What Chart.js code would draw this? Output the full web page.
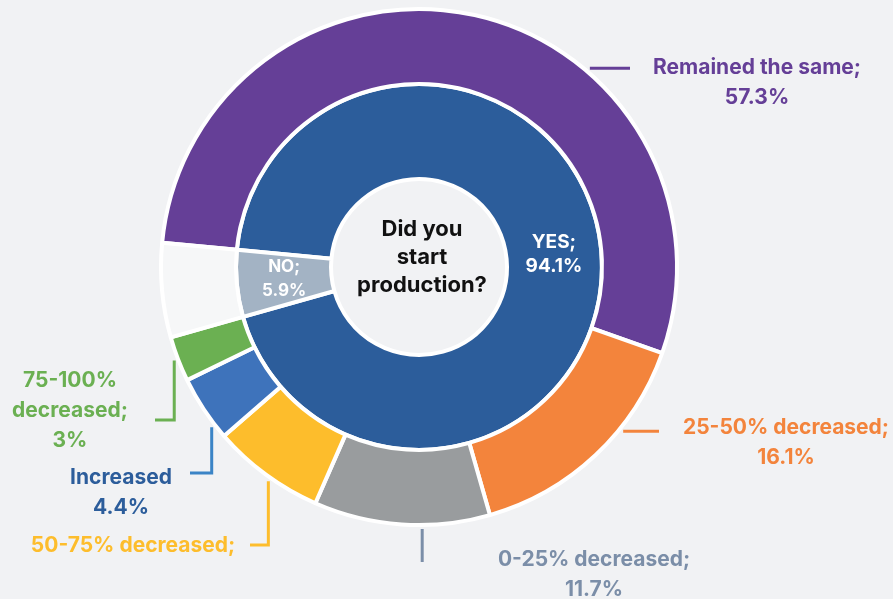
<!DOCTYPE html>
<html>
<head>
<meta charset="utf-8">
<script src="https://cdn.jsdelivr.net/npm/chart.js@4.4.0/dist/chart.umd.min.js"></script>
<style>
  html, body { margin: 0; padding: 0; background: #f1f2f4; }
  #wrap { width: 893px; height: 599px; }
</style>
</head>
<body>
<div id="wrap"><canvas id="prodChart" width="893" height="599"></canvas></div>
<script>
// inner ring: did you start production?
const startLabels = ['YES', 'NO'];
const startValues = [94.1, 5.9];

// outer ring: how production changed (% of those who said YES)
const changeLabels = ['Remained the same', '25-50% decreased', '0-25% decreased', '50-75% decreased', 'Increased', '75-100% decreased'];
const changeValues = [57.3, 16.1, 11.7, 7.5, 4.4, 3];

const changeColors = ['#653f97', '#f3843c', '#999c9e', '#fdbd2c', '#3e73bb', '#6bb052'];
const startColors = ['#2c5d9b', '#a3b3c4'];
const emptyColor = '#f6f7f8';
const FONT = 'Inter, Roboto, sans-serif';

// outer ring shares scaled to the YES part, NO left as an empty slice
const outerData = changeValues.map(v => v * startValues[0] / 100).concat([startValues[1]]);

// leader lines: angle on the outer ring (deg, clockwise from top), then where the line goes
const callouts = [
  { angle: 40.7, toX: 630, color: '#653f97', text: [changeLabels[0] + ';', changeValues[0] + '%'], tx: 757, ty: 68 },
  { angle: 128.8, toX: 659, color: '#f3843c', text: [changeLabels[1] + ';', changeValues[1] + '%'], tx: 786, ty: 428 },
  { angle: 179.3, toY: 562, color: '#7b8ea8', text: [changeLabels[2] + ';', changeValues[2] + '%'], tx: 594, ty: 560 },
  { angle: 215.1, toY: 545, thenX: 250, color: '#fdbd2c', text: [changeLabels[3] + ';'], tx: 133, ty: 546 },
  { angle: 232.3, toY: 473, thenX: 190, color: '#2c5d9b', lineColor: '#3b84c6', text: [changeLabels[4], changeValues[4] + '%'], tx: 121, ty: 478 },
  { angle: 249.1, toY: 420, thenX: 155, color: '#6bb052', text: ['75-100%', 'decreased;', changeValues[5] + '%'], tx: 70, ty: 381 }
];

const labelPlugin = {
  id: 'labels',
  afterDraw(chart) {
    const ctx = chart.ctx;
    const outer = chart.getDatasetMeta(0).data[0];
    const cx = outer.x, cy = outer.y, R = outer.outerRadius + 4;

    ctx.save();
    ctx.textAlign = 'center';
    ctx.textBaseline = 'middle';

    // callout lines and text
    callouts.forEach(c => {
      const a = c.angle * Math.PI / 180;
      const sx = cx + R * Math.sin(a);
      const sy = cy - R * Math.cos(a);
      ctx.strokeStyle = c.lineColor || c.color;
      ctx.lineWidth = 3;
      ctx.beginPath();
      ctx.moveTo(sx, sy);
      if (c.toX !== undefined) {
        ctx.lineTo(c.toX, sy);
      } else {
        ctx.lineTo(sx, c.toY);
        if (c.thenX !== undefined) ctx.lineTo(c.thenX, c.toY);
      }
      ctx.stroke();

      ctx.fillStyle = c.color;
      ctx.font = 'bold 21px ' + FONT;
      c.text.forEach((t, k) => ctx.fillText(t, c.tx, c.ty + k * 30));
    });

    // YES / NO inside the inner ring
    const inner = chart.getDatasetMeta(1).data;
    ctx.fillStyle = '#ffffff';
    inner.forEach((arc, i) => {
      const p = arc.tooltipPosition();
      ctx.font = 'bold ' + (i === 0 ? 19 : 17) + 'px ' + FONT;
      ctx.fillText(startLabels[i] + ';', p.x, p.y - 12);
      ctx.fillText(startValues[i] + '%', p.x, p.y + 12);
    });

    // question in the hole
    ctx.fillStyle = '#111111';
    ctx.font = 'bold 22px ' + FONT;
    ['Did you', 'start', 'production?'].forEach((t, k) => ctx.fillText(t, cx + 3, cy - 38 + k * 28));
    ctx.restore();
  }
};

new Chart(document.getElementById('prodChart'), {
  type: 'doughnut',
  data: {
    labels: changeLabels.concat(['NO']),
    datasets: [
      {
        data: outerData,
        backgroundColor: changeColors.concat([emptyColor]),
        borderColor: '#ffffff',
        borderWidth: 4,
        weight: 75
      },
      {
        data: startValues,
        backgroundColor: startColors,
        borderColor: '#ffffff',
        borderWidth: 4,
        weight: 95
      }
    ]
  },
  options: {
    responsive: false,
    animation: false,
    rotation: 275.4,
    radius: 258,
    cutout: '34.1%',
    layout: { padding: { left: 0, right: 55, top: 0, bottom: 65 } },
    plugins: {
      legend: { display: false },
      tooltip: { enabled: false }
    }
  },
  plugins: [labelPlugin]
});
</script>
</body>
</html>
